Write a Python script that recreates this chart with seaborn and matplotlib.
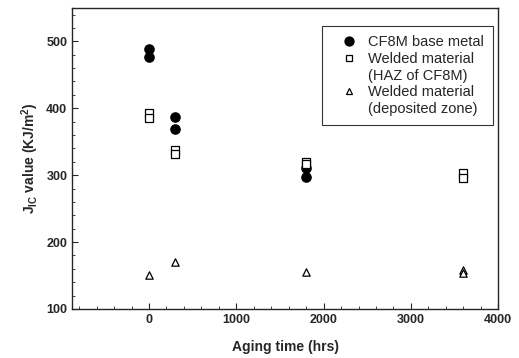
import matplotlib
matplotlib.use('Agg')
import matplotlib.pyplot as plt
import seaborn as sns
import pandas as pd
from matplotlib.ticker import MultipleLocator
from matplotlib.lines import Line2D

# aging time (hrs) and J_IC values
base_x = [0, 0, 300, 300, 1800, 1800]
base_y = [488, 477, 387, 369, 310, 297]
haz_x = [0, 0, 300, 300, 1800, 1800, 3600, 3600]
haz_y = [393, 385, 337, 332, 320, 316, 303, 296]
dep_x = [0, 300, 1800, 3600, 3600]
dep_y = [151, 170, 155, 158, 154]

labels = ["CF8M base metal", "Welded material", "Welded material"]
sublabels = [None, "(HAZ of CF8M)", "(deposited zone)"]

df = pd.concat([
    pd.DataFrame({"t": base_x, "j": base_y, "mat": "base"}),
    pd.DataFrame({"t": haz_x, "j": haz_y, "mat": "haz"}),
    pd.DataFrame({"t": dep_x, "j": dep_y, "mat": "dep"}),
])

sns.set_style("ticks")
plt.rcParams['font.family'] = ['Liberation Sans', 'DejaVu Sans']

fig = plt.figure(figsize=(5.19, 3.58), dpi=100)
ax = fig.add_axes([0.139, 0.137, 0.821, 0.841])

styles = {"base": dict(marker="o", fc="black", s=45),
          "haz": dict(marker="s", fc="white", s=26),
          "dep": dict(marker="^", fc="white", s=28)}
for key, st in styles.items():
    sns.scatterplot(data=df[df["mat"] == key], x="t", y="j", ax=ax, marker=st["marker"],
                    s=st["s"], color=st["fc"], edgecolor="black", linewidth=0.9,
                    legend=False)

ax.set_xlim(-880, 4000)
ax.set_ylim(100, 550)
ax.set_xticks([0, 1000, 2000, 3000, 4000])
ax.xaxis.set_minor_locator(MultipleLocator(200))
ax.yaxis.set_major_locator(MultipleLocator(100))
ax.yaxis.set_minor_locator(MultipleLocator(20))
ax.tick_params(which="both", direction="in", top=False, right=False, labelsize=9)
ax.tick_params(which="major", length=4)
ax.tick_params(which="minor", length=2)
for lab in ax.get_xticklabels() + ax.get_yticklabels():
    lab.set_fontweight("bold")
for s in ax.spines.values():
    s.set_linewidth(1.0)

ax.set_xlabel("Aging time (hrs)", fontsize=10, fontweight="bold", labelpad=10)
ax.set_ylabel("J$_{\\mathregular{IC}}$ value (KJ/m$^{\\mathregular{2}}$)", fontsize=10, fontweight="bold")

# legend with the wrapped second lines as handle-less rows
handles, texts = [], []
for key, lab, sub in zip(styles, labels, sublabels):
    st = styles[key]
    handles.append(Line2D([], [], linestyle="none", marker=st["marker"], markerfacecolor=st["fc"],
                          markeredgecolor="black", markeredgewidth=0.9,
                          markersize=6.5 if key == "base" else 5.0))
    texts.append(lab)
    if sub:
        handles.append(Line2D([], [], linestyle="none"))
        texts.append(sub)
leg = ax.legend(handles, texts, loc="upper right", bbox_to_anchor=(493 / 519, 1 - 26 / 358),
                bbox_transform=fig.transFigure, borderaxespad=0, frameon=True, fancybox=False,
                edgecolor="black", fontsize=10.5, handletextpad=0.05, borderpad=0.65,
                labelspacing=0.18, handlelength=2.4)
leg.get_frame().set_linewidth(0.8)

fig.savefig("out.png", dpi=100)
